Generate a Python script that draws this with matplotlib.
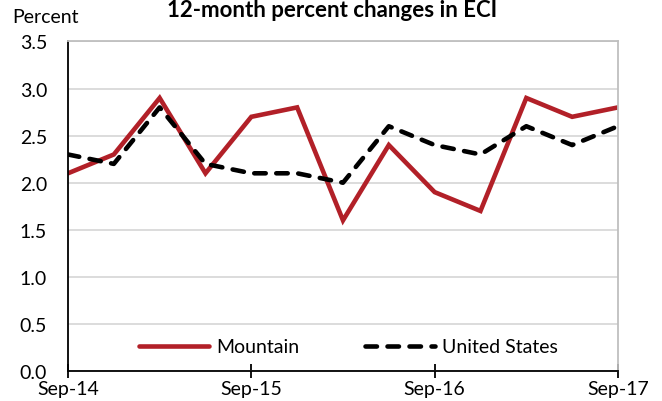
# 12-month percent changes in ECI, Mountain vs United States
import matplotlib.pyplot as plt

plt.rcParams['font.family'] = ['Lato', 'DejaVu Sans']

quarters = list(range(13))
tick_labels = ['Sep-14', 'Sep-15', 'Sep-16', 'Sep-17']
mountain = [2.1, 2.3, 2.9, 2.1, 2.7, 2.8, 1.6, 2.4, 1.9, 1.7, 2.9, 2.7, 2.8]
united_states = [2.3, 2.2, 2.8, 2.2, 2.1, 2.1, 2.0, 2.6, 2.4, 2.3, 2.6, 2.4, 2.6]

fig = plt.figure(figsize=(6.62, 4.02), dpi=100)
ax = fig.add_axes([0.1027, 0.0746, 0.8308, 0.8197])

ax.plot(quarters, mountain, color='#b22028', lw=3.3, label='Mountain',
        solid_joinstyle='miter', solid_capstyle='round')
ax.plot(quarters, united_states, color='black', lw=3.3, ls=(0, (2.5, 2.3)),
        dash_capstyle='round', label='United States')

ax.set_xlim(0, 12)
ax.set_ylim(0, 3.5)
ax.set_yticks([0, 0.5, 1.0, 1.5, 2.0, 2.5, 3.0, 3.5])
ax.set_yticklabels([f'{v:.1f}' for v in ax.get_yticks()], fontsize=14)
ax.set_xticks([0, 4, 8, 12])
ax.set_xticklabels(tick_labels, fontsize=14)
ax.tick_params(axis='x', direction='inout', length=9.5, width=1.3, pad=2)
ax.tick_params(axis='y', length=0, pad=15)

ax.grid(axis='y', color='#d9d9d9', lw=1.3)
ax.set_axisbelow(True)
ax.spines['top'].set_color('#bfbfbf')
ax.spines['right'].set_color('#bfbfbf')
ax.spines['top'].set_linewidth(1.3)
ax.spines['right'].set_linewidth(1.3)
ax.spines['left'].set_linewidth(1.3)
ax.spines['bottom'].set_linewidth(1.3)

ax.legend(loc='center', bbox_to_anchor=(0.51, 0.073), ncol=2, frameon=False,
          fontsize=14, handlelength=3.6, columnspacing=3.4, handletextpad=0.36)

fig.text(0.018, 0.943, 'Percent', fontsize=14, va='baseline')
fig.text(0.502, 0.999, '12-month percent changes in ECI', fontsize=16, fontweight='bold',
         ha='center', va='top')

plt.savefig('out.png', dpi=100)
